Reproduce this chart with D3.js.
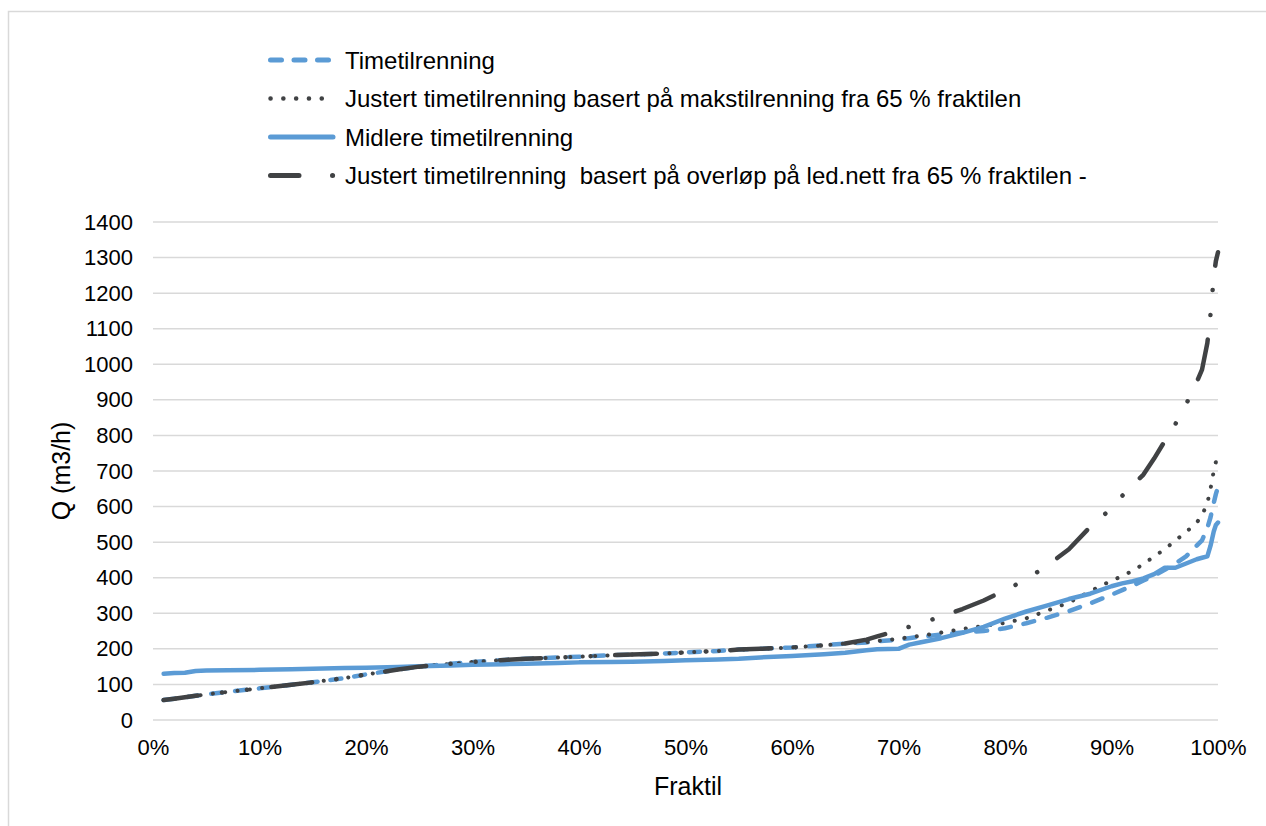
<!DOCTYPE html>
<html>
<head>
<meta charset="utf-8">
<script src="https://cdn.jsdelivr.net/npm/d3@7"></script>
<style>
  html, body { margin: 0; padding: 0; background: #fff; }
  svg { display: block; font-family: "Liberation Sans", Arial, sans-serif; }
  .keep-spaces { white-space: pre; }
</style>
</head>
<body>
<svg id="chart" width="1266" height="826"></svg>
<script>
// Fraktil (%) for every point of the duration curves
const fraktil = [1, 2, 3, 4, 5, 7, 10, 13, 15, 18, 20, 23, 25, 28, 30, 33, 35, 38, 40, 43, 45, 48, 50, 53, 55, 57, 60, 63, 65,
  67, 68, 70, 71, 72, 74, 76, 78, 80, 82, 84, 86, 88, 90, 91, 92, 93, 94, 95, 96, 97, 98, 98.5, 99, 99.3, 99.6, 99.8, 100];

// Q (m3/h)
const timetilrenning = [56, 60, 64, 68, 72, 79, 89, 99, 106, 118, 128, 142, 150, 158, 163, 169, 172, 176, 178, 182, 184, 187, 190, 194, 198, 200, 204, 210, 215,
  218, 221, 226, 230, 234, 240, 246, 250, 258, 272, 288, 306, 328, 352, 365, 378, 392, 406, 422, 440, 460, 490, 505, 540, 570, 610, 635, 655];

const justertMaks = [56, 60, 64, 68, 72, 79, 89, 99, 106, 118, 128, 142, 150, 158, 163, 169, 172, 176, 178, 182, 184, 187, 190, 194, 198, 200, 204, 210, 215,
  219, 222, 228, 233, 236, 246, 256, 264, 273, 286, 308, 330, 362, 392, 404, 420, 438, 460, 480, 505, 528, 555, 575, 610, 650, 700, 725, 730];

const midlere = [130, 132, 133, 138, 139, 140, 141, 143, 144, 146, 147, 149, 151, 153, 155, 157, 158, 160, 162, 163, 164, 166, 168, 170, 172, 176, 180, 185, 189,
  196, 199, 200, 212, 218, 230, 245, 262, 285, 305, 322, 340, 355, 376, 384, 390, 398, 410, 428, 428, 440, 452, 456, 460, 490, 530, 548, 555];

const justertOverlop = [56, 60, 64, 68, 72, 79, 89, 99, 106, 118, 128, 142, 150, 158, 163, 169, 172, 176, 178, 182, 184, 187, 190, 194, 198, 200, 204, 210, 215,
  226, 235, 252, 262, 272, 290, 312, 336, 365, 395, 435, 480, 543, 595, 630, 660, 690, 735, 784, 832, 887, 950, 985, 1060, 1141, 1245, 1290, 1315];

const yTicks = [0, 100, 200, 300, 400, 500, 600, 700, 800, 900, 1000, 1100, 1200, 1300, 1400];
const xTicks = [0, 10, 20, 30, 40, 50, 60, 70, 80, 90, 100];

const seriesNames = [
  "Timetilrenning",
  "Justert timetilrenning basert på makstilrenning fra 65 % fraktilen",
  "Midlere timetilrenning",
  "Justert timetilrenning  basert på overløp på led.nett fra 65 % fraktilen -"
];
const seriesValues = [timetilrenning, justertMaks, midlere, justertOverlop];

const BLUE = "#5b9bd5";
const DARK = "#404244";
// long dash - dot - dot, phase anchored at the 65 % fraktil where the adjusted curves split off
const styles = [
  { color: BLUE, width: 4.5, dash: "11 13", legendDash: "11 12.5", anchor: null },
  { color: DARK, width: 4, dash: "0.1 12.3", legendDash: "0.1 12.7", anchor: null },
  { color: BLUE, width: 4.5, dash: null, legendDash: null, anchor: null },
  { color: DARK, width: 4.5, dash: [41, 24.5, 0.1, 25, 0.1, 24.5], legendDash: "28.5 33.5 0.1 100", anchor: 65 }
];

const svg = d3.select("#chart");
const TICK_FONT = 22;
const LEGEND_FONT = 24;
const TITLE_FONT = 25;

// chart frame
svg.append("rect").attr("x", 0).attr("y", 0).attr("width", 1266).attr("height", 826).attr("fill", "#fff");
svg.append("rect").attr("x", 8.5).attr("y", 11.5).attr("width", 1300).attr("height", 900)
  .attr("fill", "none").attr("stroke", "#d9d9d9").attr("stroke-width", 1.5);

const x = d3.scaleLinear().domain([0, 100]).range([153, 1218]);
const y = d3.scaleLinear().domain([0, 1400]).range([720, 222]);

// horizontal gridlines
svg.append("g").selectAll("line").data(yTicks).join("line")
  .attr("x1", x(0)).attr("x2", x(100))
  .attr("y1", d => y(d)).attr("y2", d => y(d))
  .attr("stroke", "#d9d9d9").attr("stroke-width", 1.5);

// y axis labels
const yAxis = d3.axisLeft(y).tickValues(yTicks).tickSize(0).tickPadding(20).tickFormat(d3.format("d"));
const gy = svg.append("g").attr("transform", `translate(${x(0)},0)`).call(yAxis);
gy.select(".domain").remove();
gy.selectAll("text").attr("font-size", TICK_FONT).attr("fill", "#000").attr("font-family", "Liberation Sans, Arial, sans-serif");

// x axis labels
const xAxis = d3.axisBottom(x).tickValues(xTicks).tickSize(0).tickPadding(19).tickFormat(d => d + "%");
const gx = svg.append("g").attr("transform", `translate(0,${y(0)})`).call(xAxis);
gx.select(".domain").remove();
gx.selectAll("text").attr("font-size", TICK_FONT).attr("fill", "#000").attr("font-family", "Liberation Sans, Arial, sans-serif");

// axis titles
svg.append("text").attr("x", 688).attr("y", 786).attr("text-anchor", "middle")
  .attr("dominant-baseline", "central").attr("font-size", TITLE_FONT).attr("fill", "#000").text("Fraktil");
svg.append("text").attr("transform", `translate(61,${(y(0) + y(1400)) / 2}) rotate(-90)`)
  .attr("text-anchor", "middle").attr("dominant-baseline", "central")
  .attr("font-size", TITLE_FONT).attr("fill", "#000").text("Q (m3/h)");

// duration curves
const line = d3.line().x((d, i) => x(fraktil[i])).y(d => y(d));
const plot = svg.append("g");
seriesValues.forEach((vals, k) => {
  const s = styles[k];
  const p = plot.append("path").datum(vals)
    .attr("d", line)
    .attr("fill", "none")
    .attr("stroke", s.color)
    .attr("stroke-width", s.width)
    .attr("stroke-linecap", "round")
    .attr("stroke-linejoin", "round");
  if (s.dash) {
    if (Array.isArray(s.dash)) {
      p.attr("stroke-dasharray", s.dash.join(" "));
      if (s.anchor != null) {
        // start a long dash exactly where the curve leaves the common part
        const n = fraktil.indexOf(s.anchor) + 1;
        const tmp = plot.append("path").attr("d", line(vals.slice(0, n)));
        const len = tmp.node().getTotalLength();
        tmp.remove();
        const period = d3.sum(s.dash);
        p.attr("stroke-dashoffset", period - (len % period));
      }
    } else {
      p.attr("stroke-dasharray", s.dash);
    }
  }
});

// legend
const legendY = [60, 98.5, 137, 175.5];
const legend = svg.append("g");
seriesNames.forEach((name, k) => {
  const s = styles[k];
  const ly = legendY[k];
  const l = legend.append("line")
    .attr("x1", 270.5).attr("x2", 333).attr("y1", ly).attr("y2", ly)
    .attr("stroke", s.color).attr("stroke-width", s.width + 0.5)
    .attr("stroke-linecap", "round");
  if (s.legendDash) l.attr("stroke-dasharray", s.legendDash);
  legend.append("text").attr("class", "keep-spaces").attr("x", 345).attr("y", ly)
    .attr("dominant-baseline", "central").attr("font-size", LEGEND_FONT).attr("fill", "#000")
    .text(name);
});
</script>
</body>
</html>
